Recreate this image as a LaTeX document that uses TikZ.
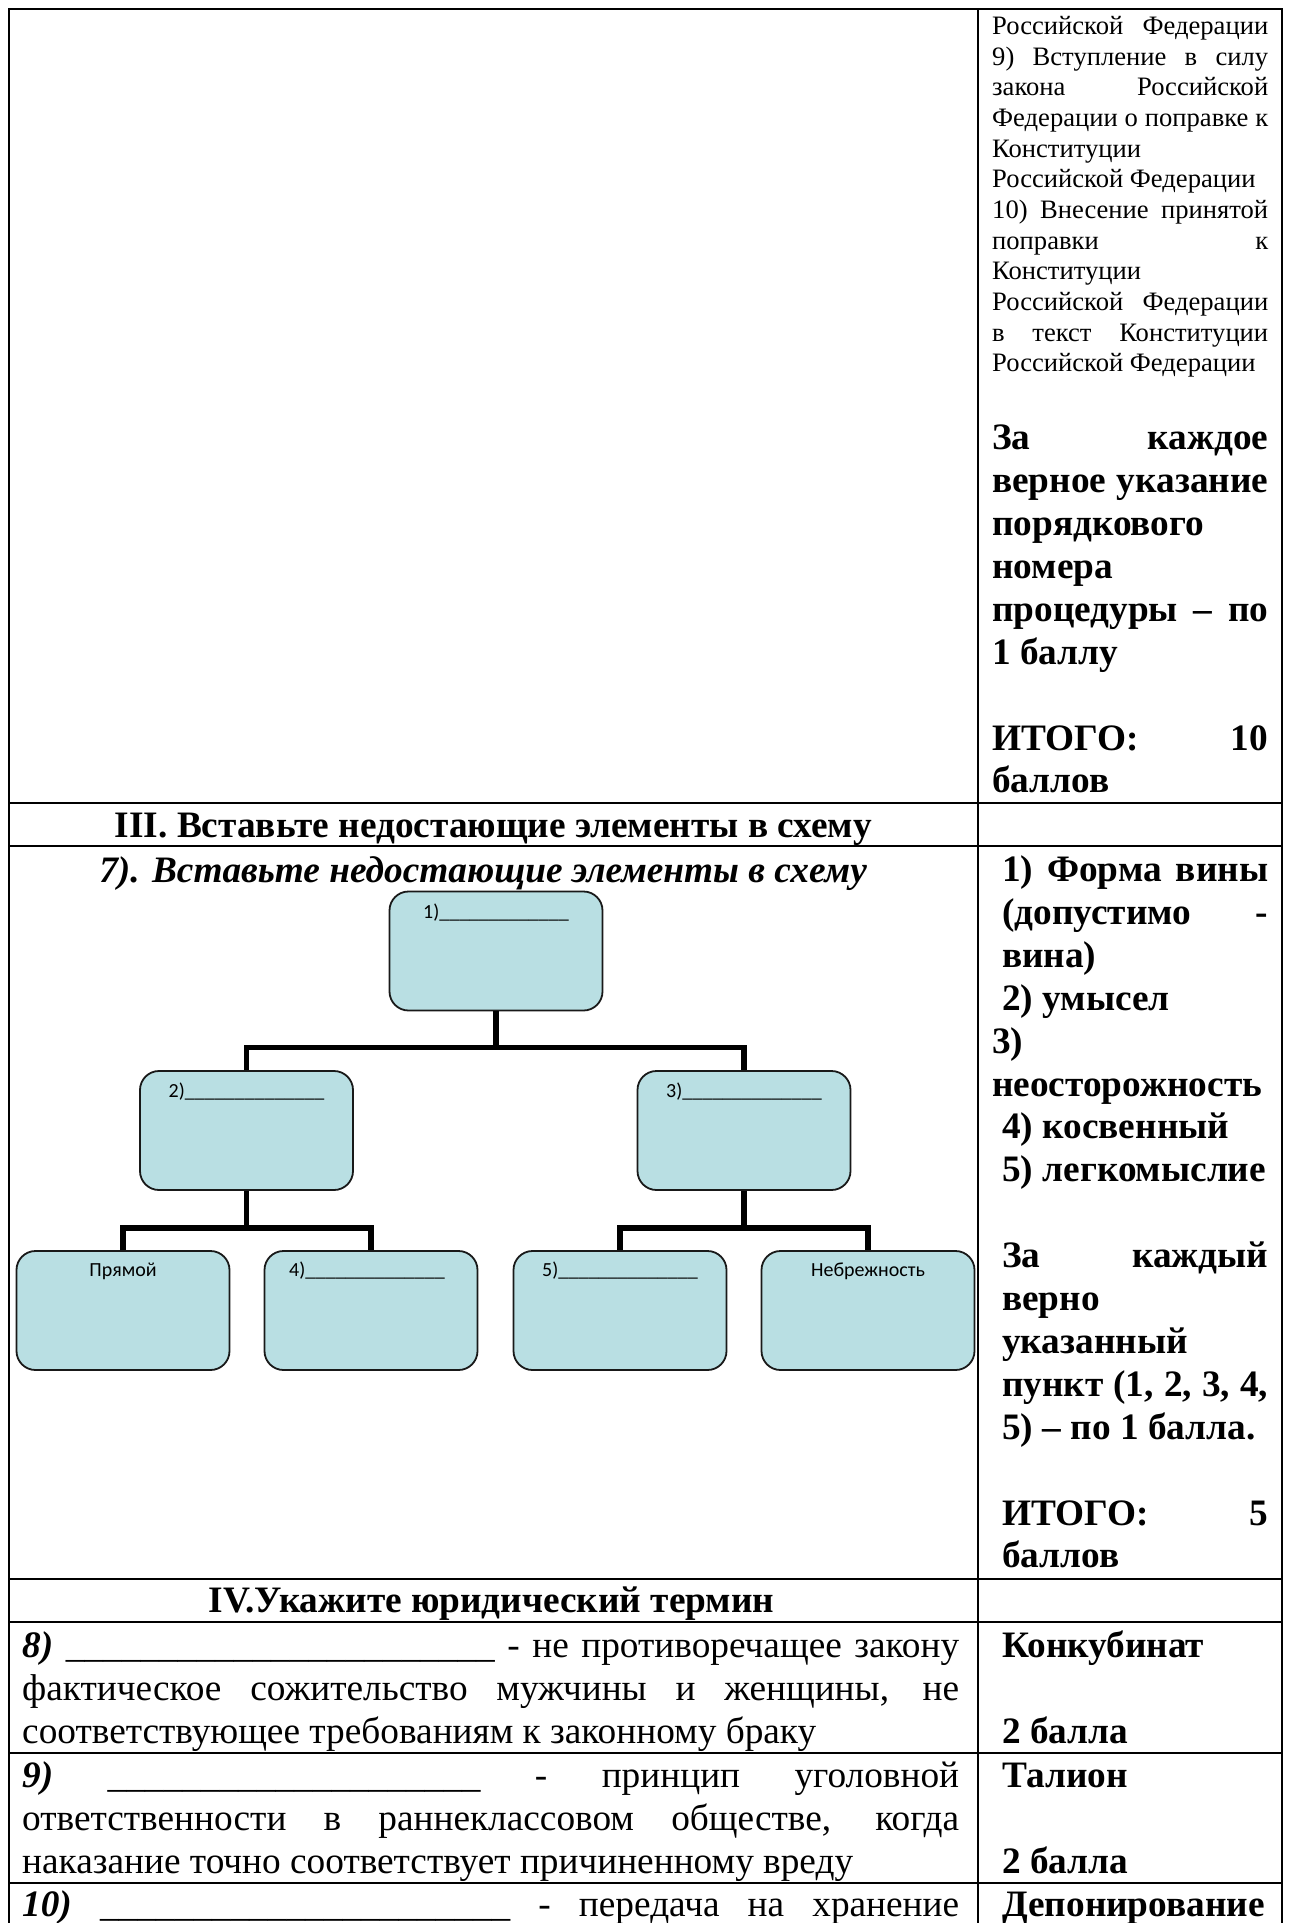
\documentclass[tikz,border=0pt]{standalone}
\usepackage{fontspec}
\setmainfont{Liberation Serif}
\newfontfamily\calibrifont{Carlito}
\usetikzlibrary{calc}
\definecolor{boxfill}{HTML}{B9DFE3}
\ExplSyntaxOn
\NewDocumentCommand\us{m}{\prg_replicate:nn{#1}{\textunderscore}}
\ExplSyntaxOff
\newcommand{\JL}[5]{\node[txt,#1] (#2) at (#3) {\makebox[#4pt][s]{#5}};}
\newcommand{\LL}[4]{\node[txt,#1] (#2) at (#3) {#4};}
\tikzset{
  tline/.style={line width=2pt, black},
  box/.style={draw=black!90, line width=1.8pt, fill=boxfill, rounded corners=19pt,
              minimum width=213pt, minimum height=119pt, inner sep=0pt},
  blbl/.style={anchor=base, inner sep=0pt, font=\calibrifont\fontsize{20pt}{24pt}\selectfont},
  conn/.style={line width=5.5pt, black},
  txt/.style={anchor=base west, inner sep=0pt},
  small/.style={font=\fontsize{26.6pt}{30pt}\selectfont},
  big/.style={font=\fontsize{37.3pt}{42pt}\selectfont},
  bigb/.style={font=\fontsize{37.3pt}{42pt}\selectfont\bfseries},
  head/.style={anchor=base, inner sep=0pt, font=\fontsize{37.3pt}{42pt}\selectfont\bfseries},
}
\begin{document}
\begin{tikzpicture}[x=1pt,y=-1pt]
\useasboundingbox (0,0) rectangle (1291,1923);
% table grid
\draw[tline] (8.5,1923) -- (8.5,9) -- (1282,9) -- (1282,1923);
\draw[tline] (977.5,9) -- (977.5,1923);
\foreach \yy in {803,846,1579,1622,1753,1883}{\draw[tline] (8.5,\yy) -- (1282,\yy);}
% right column top text
\JL{small}{r1}{992,34.5}{276}{Российской Федерации}
\JL{small}{r2}{992,65.2}{276}{9) Вступление в силу}
\JL{small}{r3}{992,95.8}{276}{закона Российской}
\JL{small}{r4}{992,126.5}{276}{Федерации о поправке к}
\LL{small}{r5}{992,157.2}{Конституции}
\LL{small}{r6}{992,187.9}{Российской Федерации}
\JL{small}{r7}{992,218.5}{276}{10) Внесение принятой}
\JL{small}{r8}{992,249.2}{276}{поправки к}
\LL{small}{r9}{992,279.9}{Конституции}
\JL{small}{r10}{992,310.6}{276}{Российской Федерации}
\JL{small}{r11}{992,341.2}{276}{в текст Конституции}
\LL{small}{r12}{992,371.9}{Российской Федерации}
\JL{bigb}{s1}{992,449.7}{276}{За каждое}
\JL{bigb}{s2}{992,492.6}{276}{верное указание}
\LL{bigb}{s3}{992,535.5}{порядкового}
\LL{bigb}{s4}{992,578.4}{номера}
\JL{bigb}{s5}{992,621.3}{276}{процедуры – по}
\LL{bigb}{s6}{992,664.2}{1 баллу}
\JL{bigb}{s7}{992,750}{276}{ИТОГО: 10}
\LL{bigb}{s8}{992,792.9}{баллов}
% headings
\node[head] (h3) at (493.5,837) {III. Вставьте недостающие элементы в схему};
\node[head] (h7) at (483,882.5) {\itshape 7). Вставьте недостающие элементы в схему};
\node[head] (h4) at (491.5,1612) {IV.Укажите юридический термин};
% answers column
\JL{bigb}{a1}{1002,881.5}{266}{1) Форма вины}
\JL{bigb}{a2}{1002,924.4}{266}{(допустимо -}
\LL{bigb}{a3}{1002,967.3}{вина)}
\LL{bigb}{a4}{1002,1010.2}{2) умысел}
\LL{bigb}{a5}{992,1053.1}{3)}
\LL{bigb}{a6}{992,1096}{неосторожность}
\LL{bigb}{a7}{1002,1138.9}{4) косвенный}
\LL{bigb}{a8}{1002,1181.8}{5) легкомыслие}
\JL{bigb}{a9}{1002,1267.6}{266}{За каждый}
\LL{bigb}{a10}{1002,1310.5}{верно}
\LL{bigb}{a11}{1002,1353.4}{указанный}
\JL{bigb}{a12}{1002,1396.3}{266}{пункт (1, 2, 3, 4,}
\LL{bigb}{a13}{1002,1439.2}{5) – по 1 балла.}
\JL{bigb}{a14}{1002,1525}{266}{ИТОГО: 5}
\LL{bigb}{a15}{1002,1567.9}{баллов}
% diagram
\node[box] (b1) at (496,951) {};
\node[box] (b2) at (246.5,1130.5) {};
\node[box] (b3) at (744,1130.5) {};
\node[box] (c1) at (123,1310.5) {};
\node[box] (c2) at (371,1310.5) {};
\node[box] (c3) at (620,1310.5) {};
\node[box] (c4) at (868,1310.5) {};
\node[blbl] (b1l) at ([yshift=-27.5pt]b1.north) {1)\us{13}};
\node[blbl] (b2l) at ([yshift=-27.5pt]b2.north) {2)\us{14}};
\node[blbl] (b3l) at ([yshift=-27.5pt]b3.north) {3)\us{14}};
\node[blbl] (c1l) at ([yshift=-26.5pt]c1.north) {Прямой};
\node[blbl] (c2l) at ([yshift=-26.5pt,xshift=-4pt]c2.north) {4)\us{14}};
\node[blbl] (c3l) at ([yshift=-26.5pt]c3.north) {5)\us{14}};
\node[blbl] (c4l) at ([yshift=-26.5pt]c4.north) {Небрежность};
\coordinate (j1) at ($(b1.south)+(0,36)$);
\coordinate (j2) at ($(b2.south)+(0,37)$);
\coordinate (j3) at ($(b3.south)+(0,37)$);
\draw[conn] (b1.south) -- (j1);
\draw[conn] (b2.north) |- (j1) -| (b3.north);
\draw[conn] (b2.south) -- (j2);
\draw[conn] (c1.north) |- (j2) -| (c2.north);
\draw[conn] (b3.south) -- (j3);
\draw[conn] (c3.north) |- (j3) -| (c4.north);
% term rows
\JL{big}{t1}{22,1657.5}{937}{\textbf{\textit{8)}} \us{23} - не противоречащее закону}
\JL{big}{t2}{22,1700.4}{937}{фактическое сожительство мужчины и женщины, не}
\LL{big}{t3}{22,1743.3}{соответствующее требованиям к законному браку}
\JL{big}{t4}{22,1787.5}{937}{\textbf{\textit{9)}} \us{20} - принцип уголовной}
\JL{big}{t5}{22,1830.4}{937}{ответственности в раннеклассовом обществе, когда}
\LL{big}{t6}{22,1873.3}{наказание точно соответствует причиненному вреду}
\JL{big}{t7}{22,1916.5}{937}{\textbf{\textit{10)}} \us{22} - передача на хранение}
\LL{bigb}{k1}{1002,1657.5}{Конкубинат}
\LL{bigb}{k2}{1002,1743.3}{2 балла}
\LL{bigb}{k3}{1002,1787.5}{Талион}
\LL{bigb}{k4}{1002,1873.3}{2 балла}
\LL{bigb}{k5}{1002,1916.5}{Депонирование}
\end{tikzpicture}
\end{document}
